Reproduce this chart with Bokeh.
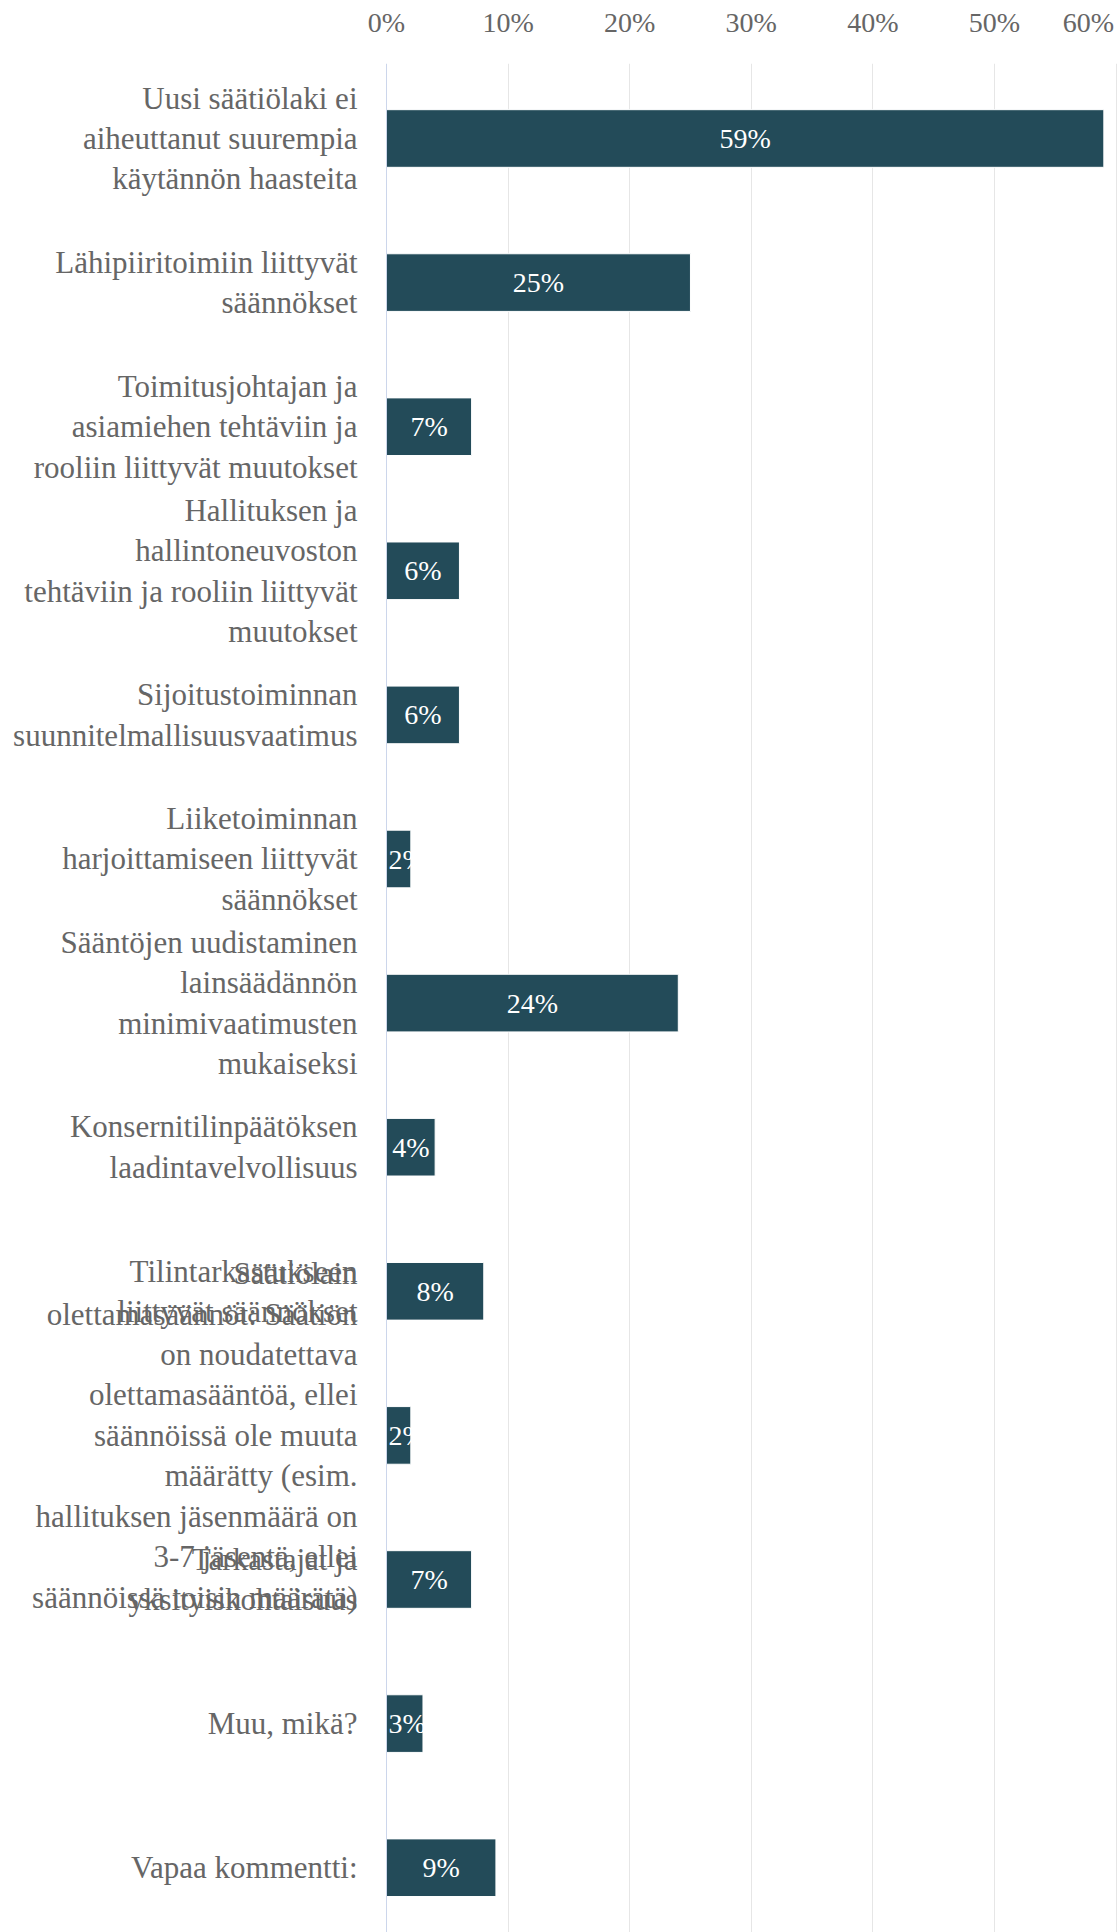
from bokeh.plotting import figure
from bokeh.models import Range1d, FixedTicker, Span, ColumnDataSource
from bokeh.core.properties import value
from bokeh.embed import file_html
from bokeh.resources import INLINE

categories = [
    "Uusi säätiölaki ei\naiheuttanut suurempia\nkäytännön haasteita",
    "Lähipiiritoimiin liittyvät\nsäännökset",
    "Toimitusjohtajan ja\nasiamiehen tehtäviin ja\nrooliin liittyvät muutokset",
    "Hallituksen ja\nhallintoneuvoston\ntehtäviin ja rooliin liittyvät\nmuutokset",
    "Sijoitustoiminnan\nsuunnitelmallisuusvaatimus",
    "Liiketoiminnan\nharjoittamiseen liittyvät\nsäännökset",
    "Sääntöjen uudistaminen\nlainsäädännön\nminimivaatimusten\nmukaiseksi",
    "Konsernitilinpäätöksen\nlaadintavelvollisuus",
    "Tilintarkastukseen\nliittyvät säännökset",
    "Säätiölain\nolettamasäännöt: Säätiön\non noudatettava\nolettamasääntöä, ellei\nsäännöissä ole muuta\nmäärätty (esim.\nhallituksen jäsenmäärä on\n3-7 jäsentä, ellei\nsäännöissä toisin määrätä)",
    "Tarkastajat ja\nyksityiskohtaisuus",
    "Muu, mikä?",
    "Vapaa kommentti:",
]
values = [59, 25, 7, 6, 6, 2, 24, 4, 8, 2, 7, 3, 9]
tick_values = [0, 10, 20, 30, 40, 50, 60]
tick_labels = ["0%", "10%", "20%", "30%", "40%", "50%", "60%"]

FONT = "'Liberation Serif', 'Times New Roman', Times, serif"
FS = "28px"
CAT_FS = "31px"
BAR = "#234b59"
TXT = "#666666"

FIG_W, FIG_H = 1119, 1932
PX0, PX60 = 386, 1115.5
scale = (PX60 - PX0) / 60.0
x_start = -PX0 / scale
x_end = 60 + (FIG_W - PX60) / scale

TOP_BORDER = 63
STANDOFF = 20
C0, STEP = 138.0, 144.1  # pixel y of first category centre, spacing
y_top = -(C0 - TOP_BORDER) / STEP
y_bot = (FIG_H - C0) / STEP

idx = list(range(len(categories)))

p = figure(width=FIG_W, height=FIG_H, output_backend="svg", toolbar_location=None,
           x_range=Range1d(x_start, x_end), y_range=Range1d(y_bot, y_top),
           x_axis_location="above", y_axis_location=None,
           min_border_left=0, min_border_right=0, min_border_bottom=0,
           min_border_top=TOP_BORDER)
p.outline_line_color = None
p.background_fill_color = "white"

# the last tick label is kept inside the chart (shifted left, as in the original)
last_pos = round(tick_values[-1] - 27.5 / scale, 3)
label_ticks = tick_values[:-1] + [last_pos]
overrides = {v: l for v, l in zip(tick_values[:-1], tick_labels[:-1])}
overrides[last_pos] = tick_labels[-1]

ax = p.xaxis[0]
ax.ticker = FixedTicker(ticks=label_ticks)
ax.major_label_overrides = overrides
ax.axis_line_color = None
ax.major_tick_line_color = None
ax.minor_tick_line_color = None
ax.major_label_text_font = FONT
ax.major_label_text_font_size = FS
ax.major_label_text_color = TXT
ax.major_label_standoff = STANDOFF

p.xgrid.ticker = FixedTicker(ticks=tick_values[1:])
p.xgrid.grid_line_color = "#e6e6e6"
p.xgrid.grid_line_width = 1
p.ygrid.grid_line_color = None

p.add_layout(Span(location=0, dimension="height", line_color="#ccd6eb", line_width=1))

src = ColumnDataSource(dict(y=idx, v=values, cat=categories,
                            lab=[f"{v}%" for v in values]))
p.hbar(y="y", left=0, right="v", height=0.4, source=src,
       fill_color=BAR, line_color="#ffffff", line_width=1)

# category labels
p.text(x=-29 / scale, y="y", text="cat", source=src, text_align="right",
       text_baseline="middle", text_font=value(FONT), text_font_size=CAT_FS,
       text_color=TXT, text_line_height=1.156)

# value labels
big = [i for i, v in enumerate(values) if v >= 3.5]
small = [i for i, v in enumerate(values) if v < 3.5]
src_big = ColumnDataSource(dict(x=[values[i] / 2 for i in big], y=[idx[i] for i in big],
                                t=[f"{values[i]}%" for i in big]))
src_small = ColumnDataSource(dict(x=[0 for i in small], y=[idx[i] for i in small],
                                  t=[f"{values[i]}%" for i in small]))
p.text(x="x", y="y", text="t", source=src_big, text_align="center", text_baseline="middle",
       text_font=value(FONT), text_font_size=FS, text_color="white")
p.text(x="x", y="y", text="t", source=src_small, text_align="left", text_baseline="middle",
       x_offset=2, text_font=value(FONT), text_font_size=FS, text_color="white")

open("out.html", "w").write(file_html(p, INLINE))
